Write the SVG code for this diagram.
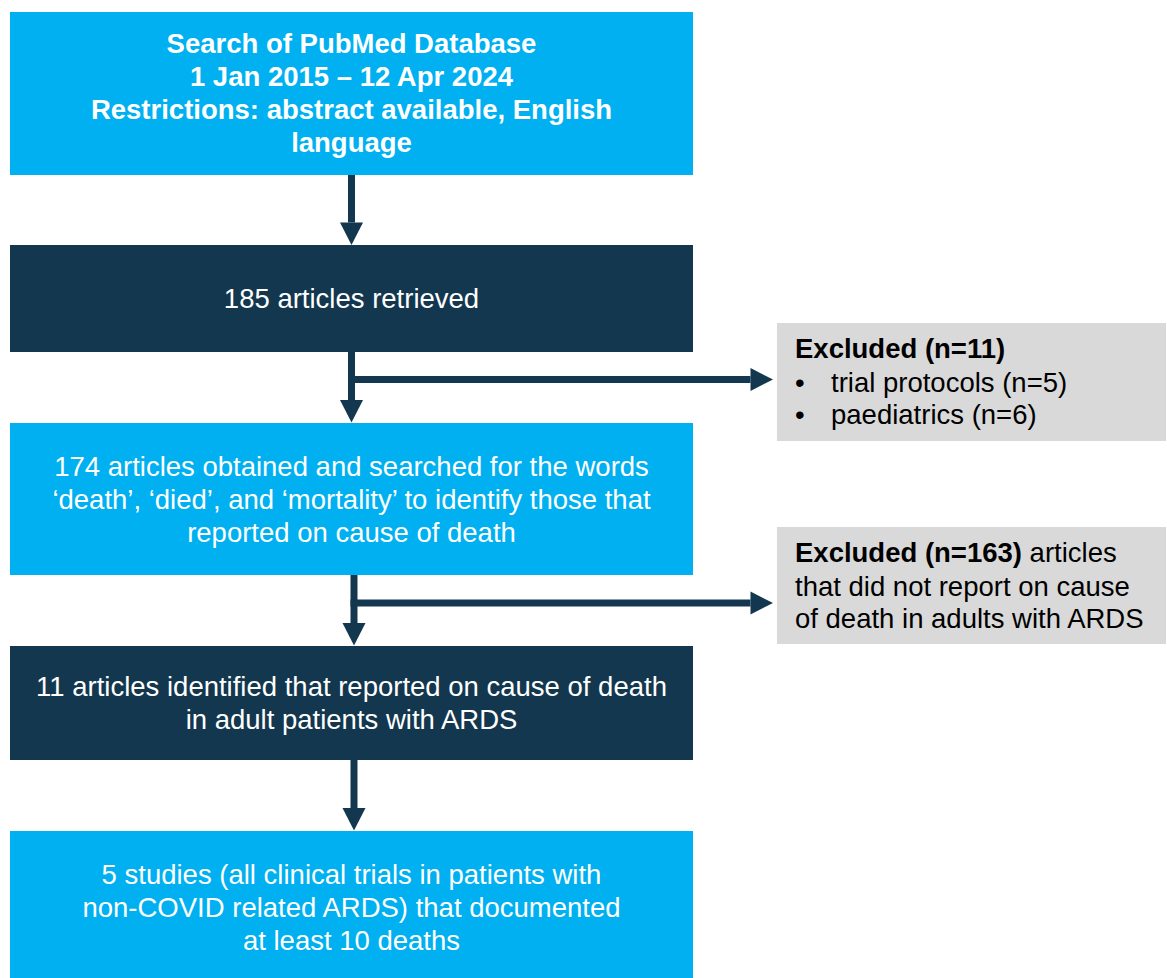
<svg xmlns="http://www.w3.org/2000/svg" width="1167" height="978" viewBox="0 0 1167 978">
  <style>
    text { font-family: "Liberation Sans", Arial, sans-serif; font-size: 27.5px; }
    .light { fill: #00B0F0; }
    .dark { fill: #13374E; }
    .grey { fill: #D9D9D9; }
    .w { fill: #FFFFFF; text-anchor: middle; }
    .b { font-weight: bold; }
    .k { fill: #000000; }
    .conn { stroke: #13374E; stroke-width: 7; fill: none; marker-end: url(#ah); }
  </style>
  <defs>
    <marker id="ah" markerUnits="userSpaceOnUse" markerWidth="23" markerHeight="23" refX="0" refY="11.5" orient="auto" overflow="visible">
      <path d="M0,0 L22.5,11.5 L0,23 Z" fill="#13374E"/>
    </marker>
  </defs>

  <rect width="1167" height="978" fill="#FFFFFF"/>

  <g id="n1">
    <rect class="light" x="10" y="12" width="683" height="163"/>
    <text class="w b" x="351.5" y="53">Search of PubMed Database</text>
    <text class="w b" x="351.5" y="86">1 Jan 2015 – 12 Apr 2024</text>
    <text class="w b" x="351.5" y="119">Restrictions: abstract available, English</text>
    <text class="w b" x="351.5" y="152">language</text>
  </g>

  <g id="n2">
    <rect class="dark" x="10" y="245" width="683" height="107"/>
    <text class="w" x="351.5" y="308">185 articles retrieved</text>
  </g>

  <g id="n3">
    <rect class="light" x="10" y="423" width="683" height="152"/>
    <text class="w" x="351.5" y="476">174 articles obtained and searched for the words</text>
    <text class="w" x="351.5" y="509">‘death’, ‘died’, and ‘mortality’ to identify those that</text>
    <text class="w" x="351.5" y="542">reported on cause of death</text>
  </g>

  <g id="n4">
    <rect class="dark" x="10" y="646" width="683" height="114"/>
    <text class="w" x="351.5" y="696">11 articles identified that reported on cause of death</text>
    <text class="w" x="351.5" y="729">in adult patients with ARDS</text>
  </g>

  <g id="n5">
    <rect class="light" x="10" y="831" width="683" height="147"/>
    <text class="w" x="351.5" y="884">5 studies (all clinical trials in patients with</text>
    <text class="w" x="351.5" y="917">non-COVID related ARDS) that documented</text>
    <text class="w" x="351.5" y="950">at least 10 deaths</text>
  </g>

  <g id="x1">
    <rect class="grey" x="777" y="323" width="389" height="118"/>
    <text class="k b" x="795" y="358">Excluded (n=11)</text>
    <text class="k" x="795" y="392">•</text>
    <text class="k" x="831" y="392">trial protocols (n=5)</text>
    <text class="k" x="795" y="424">•</text>
    <text class="k" x="831" y="424">paediatrics (n=6)</text>
  </g>

  <g id="x2">
    <rect class="grey" x="777" y="527" width="389" height="117"/>
    <text class="k" x="795" y="562"><tspan class="b">Excluded (n=163)</tspan> articles</text>
    <text class="k" x="795" y="596">that did not report on cause</text>
    <text class="k" x="795" y="628">of death in adults with ARDS</text>
  </g>

  <g id="connectors">
    <path class="conn" d="M351.5,175 L351.5,222.5"/>
    <path class="conn" d="M351.5,352 L351.5,400"/>
    <path class="conn" d="M348,379.5 L750.5,379.5"/>
    <path class="conn" d="M354,575 L354,623"/>
    <path class="conn" d="M350.5,603 L750.5,603"/>
    <path class="conn" d="M354,760 L354,808"/>
  </g>
</svg>
